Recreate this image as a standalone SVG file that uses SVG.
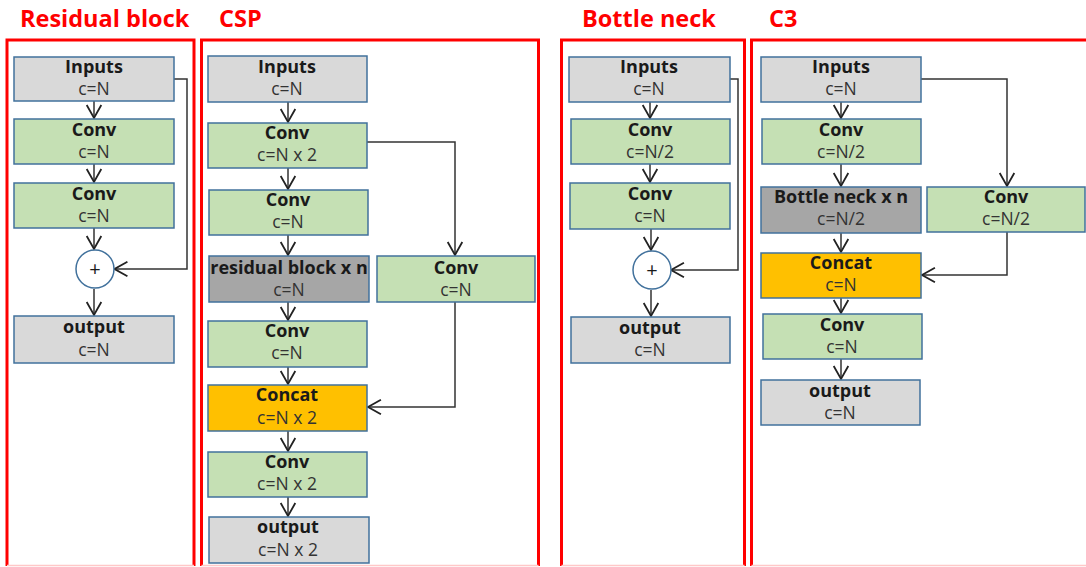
<svg xmlns="http://www.w3.org/2000/svg" width="1086" height="567" viewBox="0 0 1086 567">
  <style>
    .title { font-family: "Open Sans", "Noto Sans", sans-serif; font-weight: bold; font-size: 23.5px; fill: #ff0000; }
    .frame { fill: none; stroke: #ff0000; stroke-width: 3; }
    .frame-base { stroke: #ffc8c8; stroke-width: 1.5; }
    .box { stroke: #41719c; stroke-width: 1.5; }
    .gray { fill: #d9d9d9; }
    .green { fill: #c5e0b4; }
    .dark { fill: #a6a6a6; }
    .orange { fill: #ffc000; }
    .name { font-family: "Open Sans", "Noto Sans", sans-serif; font-weight: bold; font-size: 18px; fill: #1a1a1a; text-anchor: middle; }
    .ch { font-family: "Open Sans", "Noto Sans", sans-serif; font-size: 17.5px; fill: #333333; text-anchor: middle; }
    .add { fill: #ffffff; stroke: #41719c; stroke-width: 1.5; }
    .plus { font-family: "Open Sans", "Noto Sans", sans-serif; font-size: 20px; fill: #1a1a1a; text-anchor: middle; }
    .link { fill: none; stroke: #333333; stroke-width: 1.5; marker-end: url(#vee); }
  </style>
  <defs>
    <marker id="vee" markerUnits="userSpaceOnUse" markerWidth="16" markerHeight="18" viewBox="-1 -8 14 16" refX="11.5" refY="0" orient="auto">
      <path d="M0,-6.5 L11.5,0 L0,6.5" fill="none" stroke="#222222" stroke-width="1.6"/>
    </marker>
  </defs>

  <rect width="1086" height="567" fill="#ffffff"/>

  <!-- section titles and frames -->
  <g id="frames">
    <text class="title" x="20" y="27">Residual block</text>
    <text class="title" x="219" y="27">CSP</text>
    <text class="title" x="582" y="27">Bottle neck</text>
    <text class="title" x="769" y="27">C3</text>
    <path class="frame" d="M7,566 V40 H194 V566"/>
    <path class="frame" d="M201.5,566 V40 H538.5 V566"/>
    <path class="frame" d="M561.5,566 V40 H744.5 V566"/>
    <path class="frame" d="M751.5,566 V40 H1090"/>
    <line class="frame-base" x1="7" y1="565.5" x2="194" y2="565.5"/>
    <line class="frame-base" x1="201.5" y1="565.5" x2="538.5" y2="565.5"/>
    <line class="frame-base" x1="561.5" y1="565.5" x2="744.5" y2="565.5"/>
    <line class="frame-base" x1="751.5" y1="565.5" x2="1086" y2="565.5"/>
  </g>

  <!-- connectors -->
  <g id="connectors">
    <!-- residual block -->
    <path class="link" d="M94,101 V118"/>
    <path class="link" d="M94,164 V182"/>
    <path class="link" d="M94,228 V249"/>
    <path class="link" d="M94,289 V315"/>
    <path class="link" d="M174,79 H187 V269 H114.5"/>
    <!-- CSP -->
    <path class="link" d="M288,102 V122"/>
    <path class="link" d="M288,168 V189"/>
    <path class="link" d="M288,235 V255"/>
    <path class="link" d="M288,302 V320"/>
    <path class="link" d="M288,367 V384"/>
    <path class="link" d="M288,431 V451"/>
    <path class="link" d="M288,497 V516"/>
    <path class="link" d="M367,142 H455 V255"/>
    <path class="link" d="M455,302 V407 H368"/>
    <!-- bottle neck -->
    <path class="link" d="M650,102 V118"/>
    <path class="link" d="M650,164 V182"/>
    <path class="link" d="M651,229 V250"/>
    <path class="link" d="M651,290 V316"/>
    <path class="link" d="M730,79 H738 V270 H671"/>
    <!-- C3 -->
    <path class="link" d="M841,102 V118"/>
    <path class="link" d="M841,164 V186"/>
    <path class="link" d="M841,233 V252"/>
    <path class="link" d="M841,298 V313"/>
    <path class="link" d="M841,359 V379"/>
    <path class="link" d="M921,79 H1007 V186"/>
    <path class="link" d="M1007,232 V275 H922"/>
  </g>

  <!-- Residual block -->
  <g id="rb-inputs">
    <rect class="box gray" x="14" y="57" width="160" height="44"/>
    <text class="name" x="94" y="73">Inputs</text>
    <text class="ch" x="94" y="95">c=N</text>
  </g>
  <g id="rb-conv1">
    <rect class="box green" x="14" y="119" width="160" height="45"/>
    <text class="name" x="94" y="136">Conv</text>
    <text class="ch" x="94" y="158">c=N</text>
  </g>
  <g id="rb-conv2">
    <rect class="box green" x="14" y="183" width="160" height="45"/>
    <text class="name" x="94" y="200">Conv</text>
    <text class="ch" x="94" y="222">c=N</text>
  </g>
  <g id="rb-add">
    <circle class="add" cx="95" cy="269" r="19"/>
    <text class="plus" x="95" y="276">+</text>
  </g>
  <g id="rb-output">
    <rect class="box gray" x="14" y="316" width="160" height="47"/>
    <text class="name" x="94" y="333">output</text>
    <text class="ch" x="94" y="356">c=N</text>
  </g>

  <!-- CSP -->
  <g id="csp-inputs">
    <rect class="box gray" x="208" y="56" width="159" height="46"/>
    <text class="name" x="287" y="73">Inputs</text>
    <text class="ch" x="287" y="95">c=N</text>
  </g>
  <g id="csp-conv1">
    <rect class="box green" x="208" y="123" width="159" height="45"/>
    <text class="name" x="287" y="139">Conv</text>
    <text class="ch" x="287" y="161">c=N x 2</text>
  </g>
  <g id="csp-conv2">
    <rect class="box green" x="209" y="190" width="159" height="45"/>
    <text class="name" x="288" y="206">Conv</text>
    <text class="ch" x="288" y="228">c=N</text>
  </g>
  <g id="csp-residual">
    <rect class="box dark" x="209" y="256" width="160" height="46"/>
    <text class="name" x="289" y="274">residual block x n</text>
    <text class="ch" x="289" y="296">c=N</text>
  </g>
  <g id="csp-branch-conv">
    <rect class="box green" x="377" y="256" width="158" height="46"/>
    <text class="name" x="456" y="274">Conv</text>
    <text class="ch" x="456" y="296">c=N</text>
  </g>
  <g id="csp-conv3">
    <rect class="box green" x="208" y="321" width="159" height="46"/>
    <text class="name" x="287" y="337">Conv</text>
    <text class="ch" x="287" y="359">c=N</text>
  </g>
  <g id="csp-concat">
    <rect class="box orange" x="208" y="385" width="159" height="46"/>
    <text class="name" x="287" y="401">Concat</text>
    <text class="ch" x="287" y="424">c=N x 2</text>
  </g>
  <g id="csp-conv4">
    <rect class="box green" x="208" y="452" width="159" height="45"/>
    <text class="name" x="287" y="468">Conv</text>
    <text class="ch" x="287" y="490">c=N x 2</text>
  </g>
  <g id="csp-output">
    <rect class="box gray" x="209" y="517" width="160" height="46"/>
    <text class="name" x="288" y="533">output</text>
    <text class="ch" x="288" y="556">c=N x 2</text>
  </g>

  <!-- Bottle neck -->
  <g id="bn-inputs">
    <rect class="box gray" x="569" y="57" width="161" height="45"/>
    <text class="name" x="649" y="73">Inputs</text>
    <text class="ch" x="649" y="95">c=N</text>
  </g>
  <g id="bn-conv1">
    <rect class="box green" x="571" y="119" width="159" height="45"/>
    <text class="name" x="650" y="136">Conv</text>
    <text class="ch" x="650" y="158">c=N/2</text>
  </g>
  <g id="bn-conv2">
    <rect class="box green" x="570" y="183" width="160" height="46"/>
    <text class="name" x="650" y="200">Conv</text>
    <text class="ch" x="650" y="222">c=N</text>
  </g>
  <g id="bn-add">
    <circle class="add" cx="652" cy="270" r="19"/>
    <text class="plus" x="652" y="277">+</text>
  </g>
  <g id="bn-output">
    <rect class="box gray" x="571" y="317" width="159" height="46"/>
    <text class="name" x="650" y="334">output</text>
    <text class="ch" x="650" y="356">c=N</text>
  </g>

  <!-- C3 -->
  <g id="c3-inputs">
    <rect class="box gray" x="761" y="57" width="160" height="45"/>
    <text class="name" x="841" y="73">Inputs</text>
    <text class="ch" x="841" y="95">c=N</text>
  </g>
  <g id="c3-conv1">
    <rect class="box green" x="762" y="119" width="159" height="45"/>
    <text class="name" x="841" y="136">Conv</text>
    <text class="ch" x="841" y="158">c=N/2</text>
  </g>
  <g id="c3-bottleneck">
    <rect class="box dark" x="761" y="187" width="160" height="46"/>
    <text class="name" x="841" y="203">Bottle neck x n</text>
    <text class="ch" x="841" y="225">c=N/2</text>
  </g>
  <g id="c3-branch-conv">
    <rect class="box green" x="927" y="187" width="158" height="45"/>
    <text class="name" x="1006" y="203">Conv</text>
    <text class="ch" x="1006" y="225">c=N/2</text>
  </g>
  <g id="c3-concat">
    <rect class="box orange" x="761" y="253" width="160" height="45"/>
    <text class="name" x="841" y="269">Concat</text>
    <text class="ch" x="841" y="291">c=N</text>
  </g>
  <g id="c3-conv2">
    <rect class="box green" x="763" y="314" width="159" height="45"/>
    <text class="name" x="842" y="331">Conv</text>
    <text class="ch" x="842" y="353">c=N</text>
  </g>
  <g id="c3-output">
    <rect class="box gray" x="761" y="380" width="159" height="45"/>
    <text class="name" x="840" y="397">output</text>
    <text class="ch" x="840" y="419">c=N</text>
  </g>
</svg>
